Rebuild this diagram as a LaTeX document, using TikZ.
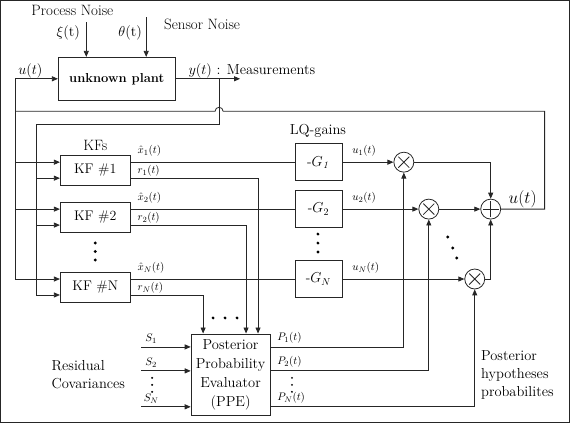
\documentclass[tikz,border=0pt]{standalone}
\usetikzlibrary{arrows.meta,calc}
\begin{document}
\begin{tikzpicture}[x=1pt,y=-1pt,
  every path/.style={line width=0.8pt, draw=black!85},
  box/.style={draw, line width=0.8pt, inner sep=0pt, align=center},
  arr/.style={-{Triangle[length=6pt,width=5pt]}},
  lbl/.style={inner sep=0pt, font=\fontsize{11}{13}\selectfont},
  txt/.style={inner sep=0pt, font=\fontsize{14.5}{18}\selectfont},
  noisetxt/.style={inner sep=0pt, font=\fontsize{15}{17}\selectfont},
  mult/.style={draw, circle, minimum size=20pt, inner sep=0pt,
    path picture={\draw[line width=0.8pt] ($(path picture bounding box.center)+(-5.5pt,-5.5pt)$) -- ($(path picture bounding box.center)+(5.5pt,5.5pt)$)
      ($(path picture bounding box.center)+(-5.5pt,5.5pt)$) -- ($(path picture bounding box.center)+(5.5pt,-5.5pt)$);}},
  summ/.style={draw, circle, minimum size=20pt, inner sep=0pt,
    path picture={\draw[line width=0.8pt] ($(path picture bounding box.center)+(-8pt,0)$) -- ($(path picture bounding box.center)+(8pt,0)$)
      ($(path picture bounding box.center)+(0,-8pt)$) -- ($(path picture bounding box.center)+(0,8pt)$);}},
  dot/.style={fill=black, draw=none}
]
\useasboundingbox (0,0) rectangle (570,423);

% plant
\node[box, minimum width=117pt, minimum height=43pt, font=\fontsize{13}{16}\selectfont\bfseries] (plant) at (116.5,78.5) {unknown plant};
% KFs
\node[box, minimum width=70pt, minimum height=30pt, font=\fontsize{14}{16}\selectfont] (kf1) at (95,170) {KF \#1};
\node[box, minimum width=70pt, minimum height=30pt, font=\fontsize{14}{16}\selectfont] (kf2) at (95,217) {KF \#2};
\node[box, minimum width=70pt, minimum height=30pt, font=\fontsize{14}{16}\selectfont] (kfN) at (95,287) {KF \#N};
% gains
\node[box, minimum width=47pt, minimum height=37pt, font=\fontsize{14}{16}\selectfont] (g1) at (318.5,162) {-$G_{\mathit{1}}$};
\node[box, minimum width=47pt, minimum height=37pt, font=\fontsize{14}{16}\selectfont] (g2) at (318.5,209) {-$G_2$};
\node[box, minimum width=47pt, minimum height=37pt, font=\fontsize{14}{16}\selectfont] (gN) at (318.5,279) {-$G_N$};
% multipliers and sum
\node[mult] (m1) at (404,162) {};
\node[mult] (m2) at (429,209) {};
\node[mult] (mN) at (475,279) {};
\node[summ] (sum) at (491,209) {};
% PPE
\node[box, minimum width=79pt, minimum height=82pt, font=\fontsize{14.5}{19}\selectfont] (ppe) at (230.5,375) {Posterior\\Probability\\Evaluator\\(PPE)};

% coordinates
\coordinate (xi) at (86,22);
\coordinate (th) at (146,17);
\coordinate (uL) at (15,78.5);
\coordinate (uB) at (15,279);
\coordinate (yout) at (240,78.5);
\coordinate (ybr) at (219,78.5);
\coordinate (yc) at (219,124);
\coordinate (yl) at (36,124);
\coordinate (yB) at (36,295);
\coordinate (fbR) at (545,111);
\coordinate (fbL) at (15,111);
\coordinate (s1) at (141,347);
\coordinate (s2) at (141,371);
\coordinate (sN) at (141,407);

% noise inputs
\draw[arr] (xi) -- (xi |- plant.north);
\draw[arr] (th) -- (th |- plant.north);
% plant input/output
\draw[arr] (uL) -- (plant.west);
\draw[arr] (plant.east) -- (yout);
\draw (ybr) -- (yc) -- (yl) -- (yB);
\draw (uL) -- (uB);
% feedback
\draw (sum.east) -| (fbR) -- (223,111) arc[start angle=0,end angle=180,radius=4pt] -- (fbL);
% KF inputs
\draw[arr] (kf1.west |- 0,162) ++(-45,0) -- (kf1.west |- 0,162);
\draw[arr] (kf2.west |- 0,209) ++(-45,0) -- (kf2.west |- 0,209);
\draw[arr] (kfN.west |- 0,279) ++(-45,0) -- (kfN.west |- 0,279);
\draw[arr] (yl |- 0,178) -- (kf1.west |- 0,178);
\draw[arr] (yl |- 0,225) -- (kf2.west |- 0,225);
\draw[arr] (yl |- 0,295) -- (kfN.west |- 0,295);
% xhat
\draw (kf1.east |- g1.west) -- (g1.west);
\draw (kf2.east |- g2.west) -- (g2.west);
\draw (kfN.east |- gN.west) -- (gN.west);
% residuals
\draw[arr] (kf1.east |- 0,178) -| (258,0 |- ppe.north);
\draw[arr] (kf2.east |- 0,225) -| (246,0 |- ppe.north);
\draw[arr] (kfN.east |- 0,295) -| (203,0 |- ppe.north);
% gains to multipliers
\draw[arr] (g1.east) -- (m1.west);
\draw[arr] (g2.east) -- (m2.west);
\draw[arr] (gN.east) -- (mN.west);
% multipliers to sum
\draw[arr] (m1.east) -| (sum.north);
\draw[arr] (m2.east) -- (sum.west);
\draw[arr] (mN.east) -| (sum.south);
% PPE outputs
\draw[arr] (ppe.east |- s1) -| (m1.south);
\draw[arr] (ppe.east |- s2) -| (m2.south);
\draw[arr] (ppe.east |- sN) -| (mN.south);
% S inputs
\draw[arr] (s1) -- (ppe.west |- s1);
\draw[arr] (s2) -- (ppe.west |- s2);
\draw[arr] (sN) -- (ppe.west |- sN);

% dots
\foreach \y in {243,251.5,260} \fill[dot] (95,\y) circle (1.6);
\foreach \y in {234,243,252} \fill[dot] (318,\y) circle (1.6);
\foreach \x in {213,225,237} \fill[dot] (\x,318) circle (1.6);
\fill[dot] (448,237) circle (1.6); \fill[dot] (453,248) circle (1.6); \fill[dot] (457,258) circle (1.6);
\foreach \y in {378,385,392} \fill[dot] (152,\y) circle (1.1);
\foreach \y in {378,385,392} \fill[dot] (292,\y) circle (1.1);

% texts
\node[noisetxt] (tPN) at (72,10) {Process Noise};
\node[noisetxt] (tSN) at (202,24) {Sensor Noise};
\node[txt] (txi) at (68,33) {$\xi$(t)};
\node[txt] (tth) at (130,33) {$\theta$(t)};
\node[txt] (tu) at (30,71) {$u(t)$};
\node[txt, anchor=west] (ty) at (188,71) {$y(t)$ : Measurements};
\node[txt, font=\fontsize{15}{18}\selectfont] (tKF) at (95,145) {KFs};
\node[txt] (tLQ) at (318,131) {LQ-gains};
\node[lbl, anchor=west] (lx1) at (137,151) {$\hat{x}_1(t)$};
\node[lbl, anchor=west] (lr1) at (137,171) {$r_1(t)$};
\node[lbl, anchor=west] (lx2) at (137,198) {$\hat{x}_2(t)$};
\node[lbl, anchor=west] (lr2) at (137,218) {$r_2(t)$};
\node[lbl, anchor=west] (lxN) at (137,268) {$\hat{x}_N(t)$};
\node[lbl, anchor=west] (lrN) at (137,288) {$r_N(t)$};
\node[lbl, anchor=west] (lu1) at (352,151) {$u_1(t)$};
\node[lbl, anchor=west] (lu2) at (352,198) {$u_2(t)$};
\node[lbl, anchor=west] (luN) at (352,268) {$u_N(t)$};
\node[inner sep=0pt, font=\fontsize{16}{18}\selectfont] (lu) at (523,199) {$u(t)$};
\node[lbl] (ls1) at (151,339) {$S_1$};
\node[lbl] (ls2) at (151,363) {$S_2$};
\node[lbl] (lsN) at (151,399) {$S_N$};
\node[lbl, anchor=west] (lp1) at (277,338) {$P_1(t)$};
\node[lbl, anchor=west] (lp2) at (277,362) {$P_2(t)$};
\node[lbl, anchor=west] (lpN) at (277,398) {$P_N(t)$};
\node[txt, anchor=west, align=left, font=\fontsize{14.5}{18}\selectfont] (tRC) at (51,375) {Residual\\Covariances};
\node[txt, anchor=west, align=left, font=\fontsize{14.5}{18}\selectfont] (tPH) at (481,375) {Posterior\\hypotheses\\probabilites};
\end{tikzpicture}
\end{document}
